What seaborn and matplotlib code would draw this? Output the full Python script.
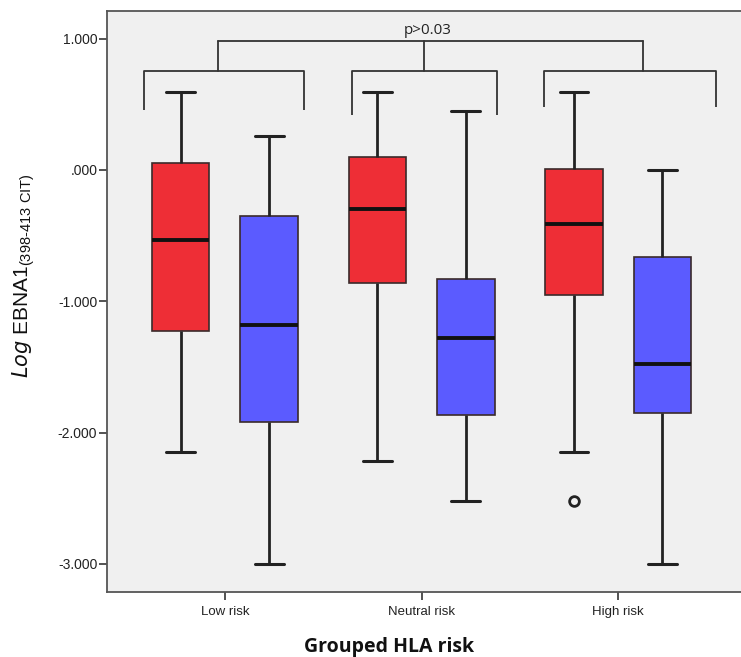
import numpy as np
import pandas as pd
import matplotlib
matplotlib.use("Agg")
import matplotlib.pyplot as plt
import seaborn as sns

# ---- data ----
categories = ["Low risk", "Neutral risk", "High risk"]
groups = ["Group A", "Group B"]

red_low = [-2.15, -1.23, -0.53, 0.05, 0.59]
red_neutral = [-2.22, -0.86, -0.30, 0.10, 0.59]
red_high = [-2.52, -2.15, -0.95, -0.95, -0.41, 0.01, 0.01, 0.59, 0.59]

blue_low = [-3.00, -1.92, -1.18, -0.35, 0.26]
blue_neutral = [-2.52, -1.87, -1.28, -0.83, 0.45]
blue_high = [-3.00, -1.85, -1.48, -0.66, 0.00]

ytick_values = [1.0, 0.0, -1.0, -2.0, -3.0]
ytick_labels = ["1.000", ".000", "-1.000", "-2.000", "-3.000"]
p_text = "p>0.03"

series = {
    ("Low risk", "Group A"): red_low,
    ("Neutral risk", "Group A"): red_neutral,
    ("High risk", "Group A"): red_high,
    ("Low risk", "Group B"): blue_low,
    ("Neutral risk", "Group B"): blue_neutral,
    ("High risk", "Group B"): blue_high,
}
rows = []
for (cat, grp), vals in series.items():
    for v in vals:
        rows.append({"risk": cat, "group": grp, "value": v})
df = pd.DataFrame(rows)

# ---- figure ----
sns.set_theme(style="white")
plt.rcParams["font.family"] = ["Liberation Sans", "DejaVu Sans"]

fig = plt.figure(figsize=(7.41, 6.57), dpi=100)
ax = fig.add_axes([107 / 741, 65 / 657, 1 - 107 / 741, 581 / 657])
ax.set_facecolor("#F0F0F0")

line_c = "#222222"
sns.boxplot(
    data=df, x="risk", y="value", hue="group",
    order=categories, hue_order=groups,
    palette=["#EE2E36", "#5B5BFF"], saturation=1,
    width=0.9, gap=0.35, legend=False,
    linecolor=line_c, linewidth=1.3,
    whiskerprops=dict(linewidth=2.0, color=line_c),
    capprops=dict(linewidth=2.2, color=line_c),
    medianprops=dict(linewidth=2.8, color="#111111"),
    boxprops=dict(linewidth=1.2, edgecolor="#3a2a2a"),
    flierprops=dict(marker="o", markersize=7, markerfacecolor="none",
                    markeredgecolor=line_c, markeredgewidth=2.0),
    ax=ax,
)

ax.set_xlim(-0.6, 2.625)
ax.set_ylim(-3.214, 1.21)

# ---- significance brackets ----
br_c = "#333333"
br_lw = 1.3
bracket_y = 0.752
legs = [(-0.41, 0.40, 0.457, -0.035), (0.644, 1.385, 0.42, 1.014), (1.623, 2.50, 0.48, 2.125)]
for xl, xr, yb, xs in legs:
    ax.plot([xl, xl, xr, xr], [yb, bracket_y, bracket_y, yb], color=br_c, lw=br_lw, solid_capstyle="butt")
    ax.plot([xs, xs], [bracket_y, 0.98], color=br_c, lw=br_lw)
ax.plot([legs[0][3], legs[2][3]], [0.98, 0.98], color=br_c, lw=br_lw)
ax.text(1.03, 1.005, p_text, ha="center", va="bottom", fontsize=11,
        family=["Open Sans", "DejaVu Sans"], color="#222222")

# ---- axes styling ----
ax.set_yticks(ytick_values)
ax.set_yticklabels(ytick_labels, fontsize=10, color="#222222")
ax.tick_params(axis="y", direction="out", length=6, width=1.3, color="#444444", pad=1, left=True)
ax.tick_params(axis="x", direction="out", length=6, width=1.3, color="#444444", pad=4, bottom=True)
for lab in ax.get_xticklabels():
    lab.set_fontsize(9.5)
    lab.set_color("#222222")

for side in ["left", "bottom", "top"]:
    ax.spines[side].set_visible(True)
    ax.spines[side].set_color("#555555")
    ax.spines[side].set_linewidth(1.3)
ax.spines["right"].set_visible(False)

ax.set_xlabel("Grouped HLA risk", fontsize=14, fontweight="bold",
              family=["Open Sans", "DejaVu Sans"], color="#111111")
ax.xaxis.set_label_coords(0.445, -0.078)
ax.set_ylabel(r"$\it{Log}$ EBNA1$_{\mathregular{(398‐413\ CIT)}}$", fontsize=15, color="#111111")
ax.yaxis.set_label_coords(-0.11, 0.545)

fig.savefig("out.png", dpi=100, facecolor="white")
